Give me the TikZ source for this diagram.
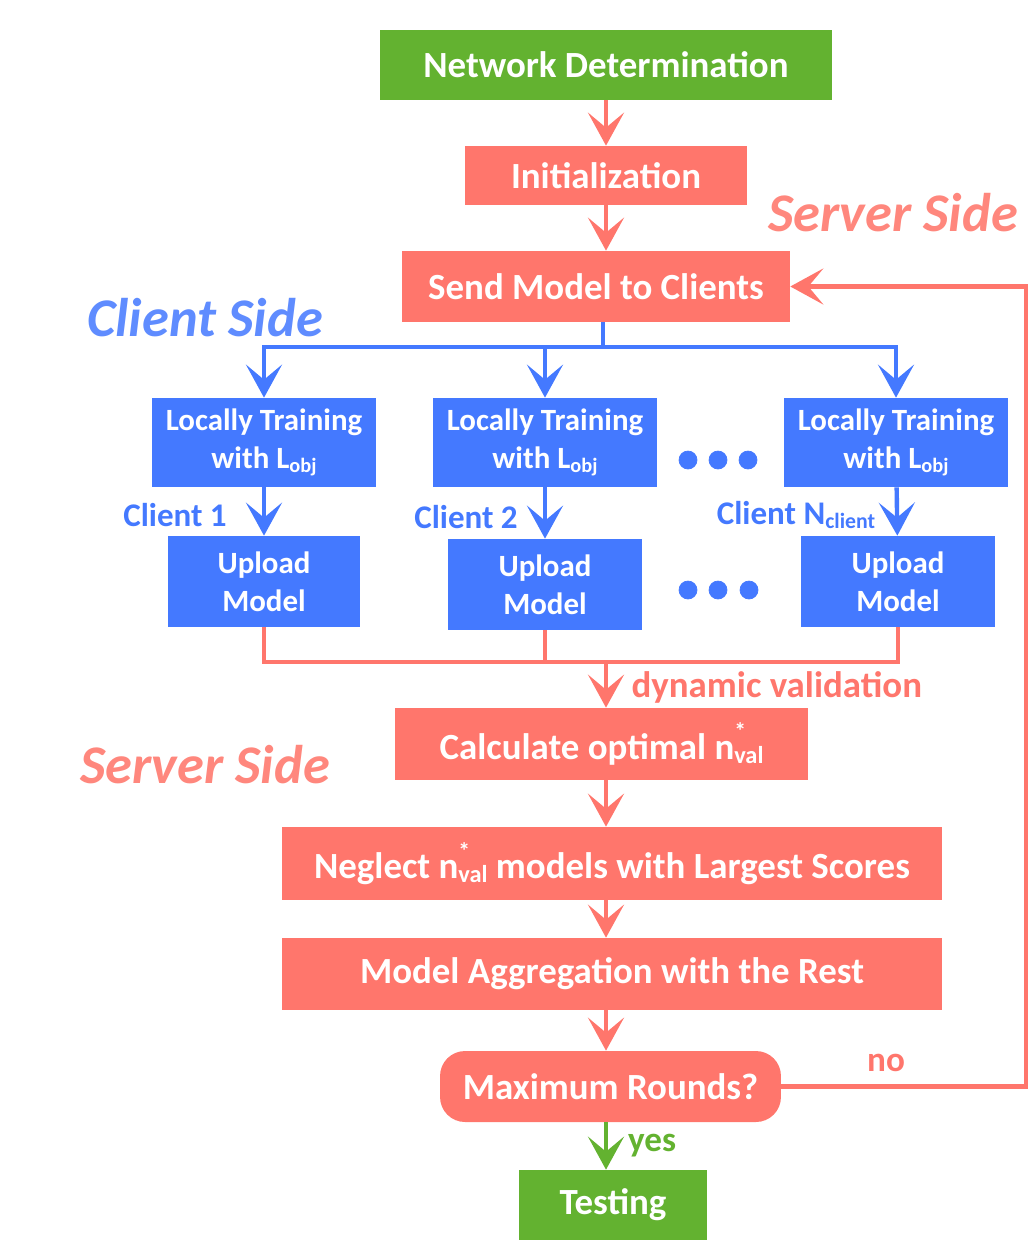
\documentclass[tikz,border=0pt]{standalone}
\usepackage{fontspec}
\usepackage{graphicx}
\setmainfont{Carlito}
\usetikzlibrary{arrows.meta}

\definecolor{srv}{RGB}{255,118,108}
\definecolor{cli}{RGB}{68,121,255}
\definecolor{grn}{RGB}{99,178,48}
\definecolor{srvtxt}{RGB}{255,135,125}
\definecolor{clitxt}{RGB}{95,140,255}

\newcommand{\lsub}[1]{\raisebox{-0.12em}{\scalebox{0.66}{#1}}}
\newcommand{\nval}{n\rlap{\raisebox{0.52em}{\scalebox{0.64}{*}}}\lsub{val}}

\tikzset{
  box/.style={inner sep=0pt, align=center, text=white, font=\bfseries\fontsize{21}{24}\selectfont},
  srvbox/.style={box, fill=srv},
  clibox/.style={box, fill=cli, font=\bfseries\fontsize{17.6}{21.5}\selectfont},
  grnbox/.style={box, fill=grn},
  link/.style={line width=2.5pt},
  flow/.style={link, -{Stealth[length=0.66cm, width=0.72cm, inset=0.3cm]}},
  side/.style={font=\bfseries\itshape\fontsize{31}{34}\selectfont},
  cname/.style={text=cli, font=\bfseries\fontsize{18.8}{22}\selectfont},
}

\begin{document}
\begin{tikzpicture}[x=0.02cm, y=-0.02cm]
                \useasboundingbox (0,0) rectangle (1029,1245);

                % server: start
                \node[grnbox, minimum width=9.04cm, minimum height=1.4cm] (net) at (606,65) {Network Determination};
                \node[srvbox, minimum width=5.66cm, minimum height=1.18cm] (init) at (606,175.5) {Initialization};
                \node[srvbox, minimum width=7.76cm, minimum height=1.42cm] (send) at (596,286.5) {Send Model to Clients};
                \node[side, text=srvtxt] (srvtop) at (893,213) {Server Side};

                \draw[flow, srv] (net.south) -- (init.north);
                \draw[flow, srv] (init.south) -- (init.south |- send.north);

                % clients
                \node[side, text=clitxt] (clitop) at (205,318) {Client Side};
                \node[clibox, minimum width=4.48cm, minimum height=1.78cm] (lt1) at (264,442.5) {Locally Training\\with L\lsub{obj}};
                \node[clibox, minimum width=4.48cm, minimum height=1.78cm] (lt2) at (545,442.5) {Locally Training\\with L\lsub{obj}};
                \node[clibox, minimum width=4.48cm, minimum height=1.78cm] (lt3) at (896,442.5) {Locally Training\\with L\lsub{obj}};
                \node[clibox, minimum width=3.86cm, minimum height=1.82cm] (up1) at (264,581.5) {Upload\\Model};
                \node[clibox, minimum width=3.88cm, minimum height=1.82cm] (up2) at (545,584.5) {Upload\\Model};
                \node[clibox, minimum width=3.88cm, minimum height=1.82cm] (up3) at (898,581.5) {Upload\\Model};

                \node[cname] (c1) at (175,515) {Client 1};
                \node[cname] (c2) at (466,517) {Client 2};
                \node[cname] (cn) at (796,515) {Client N\lsub{client}};

                \filldraw[cli] (688,460) circle (9) (718,460) circle (9) (748,460) circle (9);
                \filldraw[cli] (688,590) circle (9) (718,590) circle (9) (749,590) circle (9);

                \coordinate (split) at (603,347);
                \draw[link, cli] (send.south -| split) -- (split);
                \draw[flow, cli] (split) -| (lt1.north);
                \draw[flow, cli] (split) -| (lt2.north);
                \draw[flow, cli] (split) -| (lt3.north);
                \draw[flow, cli] (lt1) -- (up1);
                \draw[flow, cli] (lt2) -- (up2);
                \draw[flow, cli] (lt3) -- (up3);

                % server: aggregation
                \coordinate (join) at (606,662);
                \node[srvbox, minimum width=8.26cm, minimum height=1.44cm] (calc) at (601.5,744) {Calculate optimal \nval};
                \node[srvbox, minimum width=13.2cm, minimum height=1.46cm] (neg) at (612,863.5) {Neglect \nval\ models with Largest Scores};
                \node[srvbox, minimum width=13.2cm, minimum height=1.44cm] (agg) at (612,974) {Model Aggregation with the Rest};
                \node[srvbox, minimum width=6.82cm, minimum height=1.42cm, rounded corners=0.5cm] (maxr) at (610.5,1086.5) {Maximum Rounds?};
                \node[grnbox, minimum width=3.76cm, minimum height=1.4cm] (test) at (613,1205) {Testing};
                \node[side, text=srvtxt] (srvbot) at (205,765) {Server Side};

                \draw[link, srv] (up1.south) -- (up1.south |- join) -- (up3.south |- join) -- (up3.south);
                \draw[link, srv] (up2.south) -- (up2.south |- join);
                \draw[flow, srv] (join) -- (join |- calc.north) node[pos=0.55, right=10pt, text=srv, font=\bfseries\fontsize{21}{24}\selectfont] (dyn) {dynamic validation};
                \draw[flow, srv] (calc.south -| join) -- (neg.north -| join);
                \draw[flow, srv] (neg.south -| join) -- (agg.north -| join);
                \draw[flow, srv] (agg.south -| join) -- (maxr.north -| join);
                \draw[flow, grn] (maxr.south -| join) -- (test.north -| join) node[pos=0.5, right=8pt, text=grn, font=\bfseries\fontsize{20}{24}\selectfont] (yes) {yes};

                \coordinate (loop) at (1026,1086.5);
                \draw[flow, srv] (maxr.east) -- (loop) |- (send.east);
                \node[text=srv, font=\bfseries\fontsize{20}{24}\selectfont] (no) at (886,1063) {no};
            \end{tikzpicture}
\end{document}
